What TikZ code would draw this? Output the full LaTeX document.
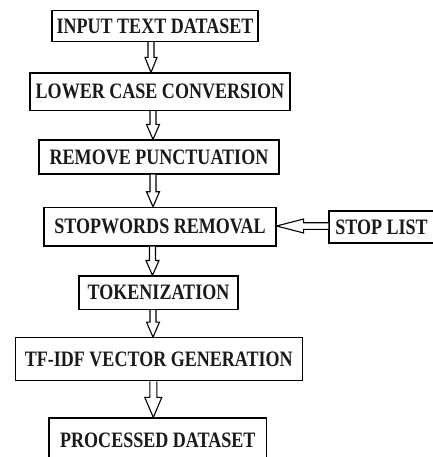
\documentclass[tikz,border=0pt]{standalone}
\usepackage{fontspec}
\setmainfont{Liberation Serif}[FakeStretch=0.82]
\usetikzlibrary{calc}
\tikzset{
  box/.style={draw, line width=1.2pt, inner sep=0pt, font=\fontsize{22}{24}\selectfont\bfseries, text=black!90},
  conn/.style={draw, line width=1.1pt, fill=white, line join=miter}
}
% vertical hollow double arrow: #1 from, #2 to, #3 x, #4 half shaft, #5 half head, #6 head length
\newcommand\vconn[6]{%
  \draw[conn] let \p1=(#1.south), \p2=(#2.north) in
   (#3pt-#4pt,\y1) -- (#3pt-#4pt,\y2+#6pt) -- (#3pt-#5pt,\y2+#6pt) -- (#3pt,\y2)
   -- (#3pt+#5pt,\y2+#6pt) -- (#3pt+#4pt,\y2+#6pt) -- (#3pt+#4pt,\y1);}
\begin{document}
\begin{tikzpicture}[x=1pt,y=1pt]
\useasboundingbox (0,0) rectangle (432,-457);
\node[box, minimum width=206pt, minimum height=31pt] (b1) at (155,-26) {INPUT TEXT DATASET};
\node[box, minimum width=260pt, minimum height=37.5pt] (b2) at (160,-91.8) {LOWER CASE CONVERSION};
\node[box, minimum width=240pt, minimum height=34pt] (b3) at (159,-157) {REMOVE PUNCTUATION};
\node[box, minimum width=232pt, minimum height=38.7pt] (b4) at (160,-226.7) {STOPWORDS REMOVAL};
\node[box, minimum width=105pt, minimum height=32pt] (stop) at (381.5,-227) {STOP LIST};
\node[box, minimum width=159pt, minimum height=33.3pt] (b5) at (158.5,-292.7) {TOKENIZATION};
\node[box, minimum width=287pt, minimum height=43pt] (b6) at (158.8,-359.2) {TF-IDF VECTOR GENERATION};
\node[box, minimum width=217.7pt, minimum height=44pt] (b7) at (157.8,-440) {PROCESSED DATASET};
\vconn{b1}{b2}{151}{3}{6}{15}
\vconn{b2}{b3}{153}{3}{6.5}{15}
\vconn{b3}{b4}{153}{3}{6.5}{15}
\vconn{b4}{b5}{152.5}{3}{6.5}{15}
\vconn{b5}{b6}{153}{3}{6.5}{15}
\vconn{b6}{b7}{153.3}{3.5}{8.5}{20}
\draw[conn] let \p1=(stop.west), \p2=(b4.east) in
  (\x1,-222.7pt) -- (\x2+27pt,-222.7pt) -- (\x2+27pt,-219pt) -- (\x2,-226pt)
  -- (\x2+27pt,-233pt) -- (\x2+27pt,-229.3pt) -- (\x1,-229.3pt);
\end{tikzpicture}
\end{document}
